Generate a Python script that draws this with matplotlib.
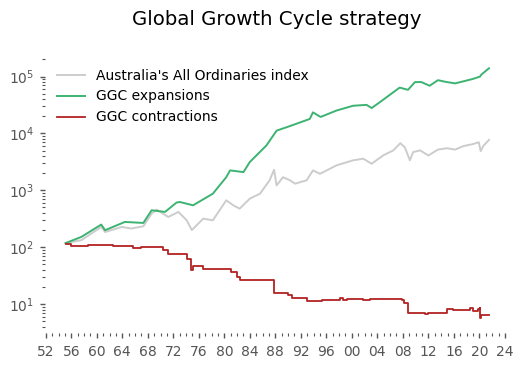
import numpy as np
import matplotlib.pyplot as plt
from matplotlib.ticker import MultipleLocator, FuncFormatter, LogLocator

# values (year, index level)
index_years = [1955.1, 1957.6, 1960.7, 1961.3, 1963.9, 1965.4, 1967.3, 1968.6, 1969.4, 1971.2,
               1972.8, 1974.1, 1974.9, 1976.7, 1978.2, 1980.3, 1981.4, 1982.4, 1984.0, 1985.6,
               1987.1, 1987.8, 1988.2, 1989.2, 1990.3, 1991.1, 1992.9, 1993.4, 1993.9, 1995.0,
               1997.6, 2000.2, 2001.8, 2003.1, 2004.9, 2006.5, 2007.6, 2008.3, 2009.1, 2009.6,
               2010.7, 2012.0, 2013.5, 2014.9, 2016.2, 2017.5, 2019.0, 2019.9, 2020.2, 2020.6,
               2021.5]
index_values = [118, 133, 227, 185, 227, 213, 233, 390, 458, 340,
                417, 297, 200, 318, 297, 667, 545, 476, 715, 873,
                1500, 2300, 1220, 1700, 1500, 1310, 1500, 1830, 2240, 1950,
                2750, 3370, 3600, 2930, 4100, 5040, 6740, 5720, 3370, 4700,
                5040, 4100, 5200, 5500, 5200, 6000, 6500, 7000, 4900, 6000,
                7700]

exp_years = [1955.1, 1957.6, 1960.7, 1961.3, 1964.4, 1967.3, 1968.6, 1970.7, 1972.5, 1973.0,
             1975.1, 1978.2, 1980.3, 1980.9, 1983.0, 1984.0, 1986.6, 1988.2, 1989.8, 1991.3,
             1993.4, 1993.9, 1995.1, 1997.6, 2000.2, 2002.3, 2003.1, 2004.4, 2006.5, 2007.5,
             2008.8, 2009.9, 2010.9, 2012.2, 2013.5, 2014.9, 2016.2, 2017.5, 2019.0, 2020.1,
             2020.3, 2021.5]
exp_values = [118, 152, 250, 199, 278, 267, 446, 417, 608, 624,
              545, 873, 1700, 2240, 2090, 3150, 6150, 11200, 12900, 14800,
              18000, 23500, 19500, 25300, 30700, 31800, 28000, 35500, 53000, 64000,
              58500, 80000, 80000, 69000, 86400, 80000, 76000, 82500, 91000, 100000,
              108000, 140000]

con_years = [1955.1, 1956.0, 1958.6, 1961.3, 1962.6, 1964.9, 1965.7, 1967.0, 1969.9, 1970.4,
             1971.2, 1973.5, 1974.1, 1974.8, 1975.1, 1976.2, 1976.6, 1980.1, 1981.0, 1982.0,
             1982.4, 1984.5, 1987.8, 1988.0, 1990.0, 1990.6, 1992.9, 1995.3, 1998.1, 1998.6,
             1999.2, 2001.8, 2002.8, 2007.9, 2008.2, 2008.8, 2011.5, 2012.0, 2014.9, 2015.9,
             2018.5, 2019.0, 2019.8, 2020.1, 2020.15, 2020.25, 2021.5]
con_values = [116, 105, 108, 110, 107, 105, 96, 99, 101, 89,
              76, 75, 63, 40, 46, 46, 41, 41, 37, 30,
              26.4, 27, 15.4, 15.8, 14.5, 12.6, 11.3, 12.0, 12.6, 11.8,
              12.4, 12.0, 12.1, 11.8, 10.3, 7.0, 6.6, 7.1, 8.2, 7.8,
              8.4, 7.5, 8.2, 8.4, 5.6, 6.4, 6.4]

labels = ["Australia's All Ordinaries index", "GGC expansions", "GGC contractions"]

fig = plt.figure(figsize=(5.23, 3.66), dpi=100)
ax = fig.add_axes([44.5 / 523, 1 - 333 / 366, 465.5 / 523, 277 / 366])

ax.plot(index_years, index_values, color='#cccccc', lw=1.4, label=labels[0])
ax.plot(exp_years, exp_values, color='#3cb371', lw=1.4, label=labels[1])
ax.plot(con_years, con_values, color='#b22222', lw=1.3, drawstyle='steps-post', label=labels[2])

ax.set_yscale('log')
ax.set_ylim(3.1, 2.3e5)
ax.set_xlim(1951.8, 2024.8)

ax.xaxis.set_major_locator(MultipleLocator(4))
ax.xaxis.set_minor_locator(MultipleLocator(1))
ax.xaxis.set_major_formatter(FuncFormatter(lambda v, p: f"{int(round(v)) % 100:02d}"))
ax.yaxis.set_minor_locator(LogLocator(base=10, subs=np.arange(2, 10), numticks=20))

for s in ax.spines.values():
    s.set_visible(False)
ax.tick_params(which='major', length=3.5, width=1, color='#555555', labelcolor='#555555',
               labelsize=10, pad=5)
ax.tick_params(which='minor', length=2, width=0.8, color='#555555')
ax.tick_params(axis='y', which='major', pad=4)

ax.set_title('Global Growth Cycle strategy', fontsize=14.2, pad=22)
ax.legend(loc='upper left', frameon=False, fontsize=10, labelspacing=0.5)

fig.savefig('out.png', dpi=100)
